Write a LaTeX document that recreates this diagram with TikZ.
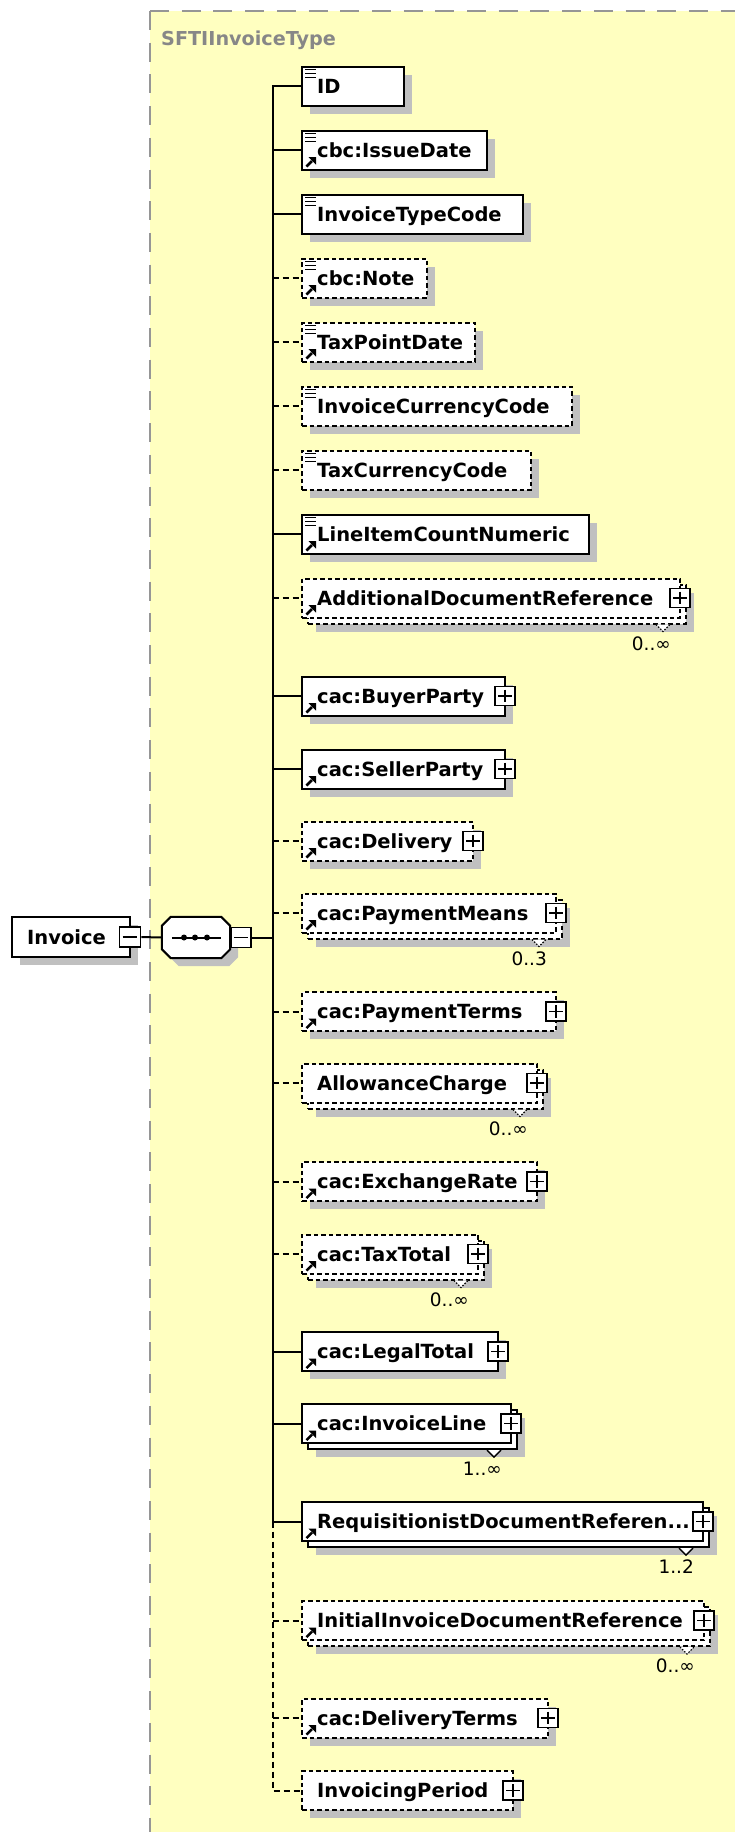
\documentclass[tikz,border=0pt]{standalone}
\usepackage{fontspec}
\setmainfont{DejaVu Sans}
\usetikzlibrary{calc,shadows}
\definecolor{bgyellow}{RGB}{255,255,192}
\definecolor{shadowgray}{RGB}{192,192,192}
\definecolor{framegray}{RGB}{150,150,150}
\definecolor{titlegray}{RGB}{135,135,135}
\tikzset{
  shadowed/.style={drop shadow={shadow xshift=8pt, shadow yshift=-8pt, opacity=1, fill=shadowgray}},
  elbase/.style={rectangle, fill=white, line width=2pt, minimum height=39pt, inner sep=0pt, outer sep=0pt},
  elsolid/.style={elbase, draw=black},
  eldashed/.style={elbase, draw=black, dash pattern=on 4.5pt off 3pt},
  lbl/.style={inner sep=0pt, font=\fontsize{19.5}{22}\selectfont\bfseries},
  cardlbl/.style={inner sep=0pt, font=\fontsize{18.5}{22}\selectfont},
  titlelbl/.style={inner sep=0pt, text=titlegray, font=\fontsize{19.2}{22}\selectfont\bfseries},
  pmbox/.style={rectangle, draw=black, fill=white, line width=1.6pt, minimum width=20pt, minimum height=19pt, inner sep=0pt},
  conn/.style={line width=2pt, draw=black},
  optconn/.style={conn, dash pattern=on 6pt off 4pt},
  iconline/.style={line width=1.6pt},
  notchsolid/.style={line width=1.4pt},
  notchdashed/.style={line width=1.1pt, dash pattern=on 1.5pt off 1.5pt},
}
\newcommand{\elbox}[5]{%
  \node[#4, shadowed, anchor=west, minimum width={#3-302}] (#1) at (302,#2) {};
  \node[lbl, anchor=base west] (#1-t) at ($(#1.west)+(15,7.3)$) {#5};
}
\newcommand{\stackbox}[5]{%
  \node[#4, shadowed, anchor=west, minimum width={#3-302}] (#1-b) at (308,#2+6) {};
  \node[#4, anchor=west, minimum width={#3-302}] (#1) at (302,#2) {};
  \node[lbl, anchor=base west] (#1-t) at ($(#1.west)+(15,7.3)$) {#5};
}
\newcommand{\icolines}[1]{%
  \foreach \dy in {3,7,11} \draw[iconline] ($(#1.north west)+(3,\dy)$) -- ++(11,0);
}
\newcommand{\icoarrow}[1]{%
  \draw[line width=2.5pt] ($(#1.south west)+(4.5,-3)$) -- ($(#1.south west)+(10,-8.5)$);
  \fill ($(#1.south west)+(14,-12.5)$) -- ($(#1.south west)+(6.5,-12.5)$) -- ($(#1.south west)+(14,-5)$) -- cycle;
}
\newcommand{\plusb}[1]{%
  \node[pmbox] (#1-p) at (#1.east) {};
  \draw[line width=1.6pt] ($(#1-p.west)+(4,0)$) -- ($(#1-p.east)+(-4,0)$);
  \draw[line width=1.6pt] ($(#1-p.north)+(0,4)$) -- ($(#1-p.south)+(0,-4)$);
}
\newcommand{\cardn}[3]{%
  \filldraw[fill=white, #3] ($(#1-b.south east)+(-30,1)$) -- ($(#1-b.south east)+(-23,8)$) -- ($(#1-b.south east)+(-16,1)$);
  \node[cardlbl, anchor=base east] (#1-c) at ($(#1-b.south east)+(-15,26.5)$) {#2};
}
\begin{document}
\begin{tikzpicture}[x=1pt, y=-1pt]
\useasboundingbox (0,0) rectangle (735,1832);
\clip (0,0) rectangle (735,1832);
% complex type area
\fill[bgyellow] (150,11) rectangle (745,1845);
\draw[framegray, line width=2pt, dash pattern=on 19pt off 12.7pt] (150,11) -- (150,1845);
\draw[framegray, line width=2pt, dash pattern=on 19pt off 12.7pt] (150,11) -- (745,11);
\node[titlelbl, anchor=base west] (ctype) at (161,45.7) {SFTIInvoiceType};

% root element
\node[elsolid, shadowed, anchor=west, minimum width=118, minimum height=40] (invoice) at (12,937) {};
\node[lbl, anchor=base west] (invoice-t) at ($(invoice.west)+(15,7.3)$) {Invoice};
\node[pmbox, minimum width=21, minimum height=20] (invoice-m) at (invoice.east) {};
\draw[line width=1.6pt] ($(invoice-m.west)+(4,0)$) -- ($(invoice-m.east)+(-4,0)$);

% sequence compositor
\node[minimum width=68, minimum height=41, inner sep=0pt] (seq) at (196,937.5) {};
\path[draw=black, fill=white, line width=2pt, shadowed]
  ($(seq.north west)+(9,0)$) -- ($(seq.north east)+(-9,0)$) -- ($(seq.north east)+(0,9)$)
  -- ($(seq.south east)+(0,-9)$) -- ($(seq.south east)+(-9,0)$) -- ($(seq.south west)+(9,0)$)
  -- ($(seq.south west)+(0,-9)$) -- ($(seq.north west)+(0,9)$) -- cycle;
\draw[line width=2pt] ($(seq.west)+(10,0)$) -- ($(seq.east)+(-9,0)$);
\foreach \dx in {-12,-1,11} \fill ($(seq.center)+(\dx,0)$) circle (3pt);
\node[pmbox, minimum width=20, minimum height=20, anchor=west] (seq-m) at (seq.east) {};
\draw[line width=1.6pt] ($(seq-m.west)+(4,0)$) -- ($(seq-m.east)+(-4,0)$);

% children
\elbox{id}{86}{404}{elsolid}{ID}\icolines{id}
\elbox{issuedate}{150}{487}{elsolid}{cbc:IssueDate}\icolines{issuedate}\icoarrow{issuedate}
\elbox{typecode}{214}{523}{elsolid}{InvoiceTypeCode}\icolines{typecode}
\elbox{note}{278}{427}{eldashed}{cbc:Note}\icolines{note}\icoarrow{note}
\elbox{taxpoint}{342}{475}{eldashed}{TaxPointDate}\icolines{taxpoint}\icoarrow{taxpoint}
\elbox{invcur}{406}{572}{eldashed}{InvoiceCurrencyCode}\icolines{invcur}
\elbox{taxcur}{470}{531}{eldashed}{TaxCurrencyCode}\icolines{taxcur}
\elbox{lineitem}{534}{589}{elsolid}{LineItemCountNumeric}\icolines{lineitem}\icoarrow{lineitem}
\stackbox{adddoc}{598}{680}{eldashed}{AdditionalDocumentReference}\icoarrow{adddoc}\plusb{adddoc}\cardn{adddoc}{0..∞}{notchdashed}
\elbox{buyer}{696}{505}{elsolid}{cac:BuyerParty}\icoarrow{buyer}\plusb{buyer}
\elbox{seller}{769}{505}{elsolid}{cac:SellerParty}\icoarrow{seller}\plusb{seller}
\elbox{delivery}{841}{473}{eldashed}{cac:Delivery}\icoarrow{delivery}\plusb{delivery}
\stackbox{paymeans}{913}{556}{eldashed}{cac:PaymentMeans}\icoarrow{paymeans}\plusb{paymeans}\cardn{paymeans}{0..3}{notchdashed}
\elbox{payterms}{1011.5}{556}{eldashed}{cac:PaymentTerms}\icoarrow{payterms}\plusb{payterms}
\stackbox{allowance}{1083}{537}{eldashed}{AllowanceCharge}\plusb{allowance}\cardn{allowance}{0..∞}{notchdashed}
\elbox{exchrate}{1181.5}{537}{eldashed}{cac:ExchangeRate}\icoarrow{exchrate}\plusb{exchrate}
\stackbox{taxtotal}{1254}{478}{eldashed}{cac:TaxTotal}\icoarrow{taxtotal}\plusb{taxtotal}\cardn{taxtotal}{0..∞}{notchdashed}
\elbox{legaltotal}{1351.5}{498}{elsolid}{cac:LegalTotal}\icoarrow{legaltotal}\plusb{legaltotal}
\stackbox{invline}{1423.5}{511}{elsolid}{cac:InvoiceLine}\icoarrow{invline}\plusb{invline}\cardn{invline}{1..∞}{notchsolid}
\stackbox{reqdoc}{1521.5}{703}{elsolid}{RequisitionistDocumentReferen...}\icoarrow{reqdoc}\plusb{reqdoc}\cardn{reqdoc}{1..2}{notchsolid}
\stackbox{initdoc}{1620.5}{704}{eldashed}{InitialInvoiceDocumentReference}\icoarrow{initdoc}\plusb{initdoc}\cardn{initdoc}{0..∞}{notchdashed}
\elbox{delterms}{1718}{548}{eldashed}{cac:DeliveryTerms}\icoarrow{delterms}\plusb{delterms}
\elbox{invperiod}{1790.5}{513}{eldashed}{InvoicingPeriod}\plusb{invperiod}

% connectors
\coordinate (spinex) at (272.7,0);
\draw[conn] (invoice-m.east) -- (seq.west);
\draw[conn] (seq-m.east) -- (seq-m.east -| spinex);
\draw[conn] (id.west) -- (id.west -| spinex) -- (reqdoc.west -| spinex) -- (reqdoc.west);
\draw[optconn] (reqdoc.west -| spinex) -- (invperiod.west -| spinex) -- (invperiod.west);
\foreach \n in {issuedate,typecode,lineitem,buyer,seller,legaltotal,invline}
  \draw[conn] (\n.west -| spinex) -- (\n.west);
\foreach \n in {note,taxpoint,invcur,taxcur,adddoc,delivery,paymeans,payterms,allowance,exchrate,taxtotal,initdoc,delterms}
  \draw[optconn] (\n.west -| spinex) -- (\n.west);
\end{tikzpicture}
\end{document}
